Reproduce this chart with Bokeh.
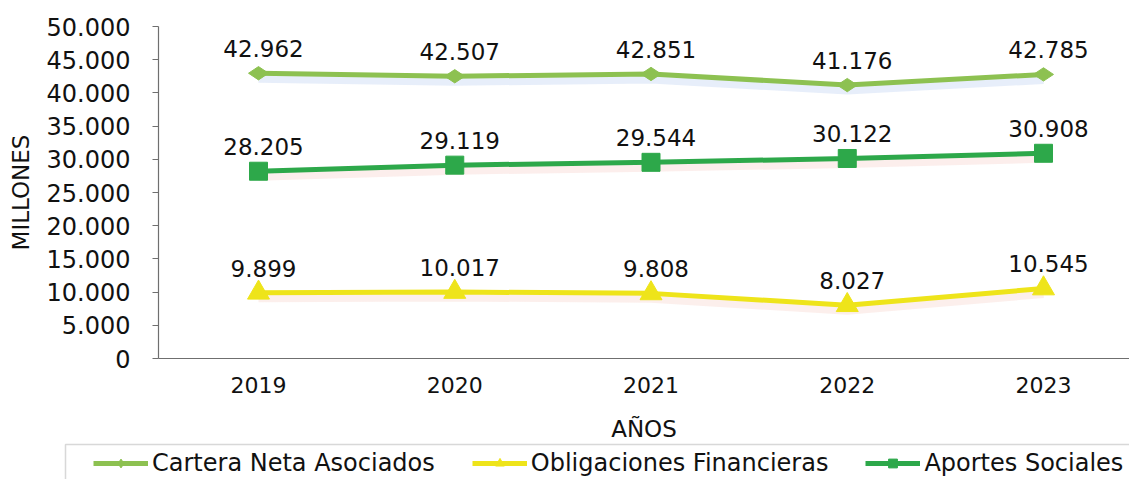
from bokeh.plotting import figure
from bokeh.models import (Range1d, FixedTicker, Legend, LegendItem, ColumnDataSource,
                          LabelSet, BoxAnnotation)
from bokeh.core.properties import value
from bokeh.embed import file_html
from bokeh.resources import INLINE

years = ["2019", "2020", "2021", "2022", "2023"]
cartera = [42962, 42507, 42851, 41176, 42785]
obligaciones = [9899, 10017, 9808, 8027, 10545]
aportes = [28205, 29119, 29544, 30122, 30908]
y_ticks = [0, 5000, 10000, 15000, 20000, 25000, 30000, 35000, 40000, 45000, 50000]
y_tick_labels = ["0", "5.000", "10.000", "15.000", "20.000", "25.000",
                 "30.000", "35.000", "40.000", "45.000", "50.000"]
series_names = ["Cartera Neta Asociados", "Obligaciones Financieras", "Aportes Sociales"]

FONT = "DejaVu Sans"

# layout geometry (pixels)
W, H = 1129, 479
AX_LEFT, AX_TOP, AX_BOTTOM = 158, 26, 358
FIRST_CAT, CAT_STEP = 258, 196.25
Y_MAX = 50000
ypp = Y_MAX / (AX_BOTTOM - AX_TOP)

def fmt(v):
    return f"{v:,}".replace(",", ".")

xs = list(range(len(years)))
x_axis_pos = (AX_LEFT - FIRST_CAT) / CAT_STEP

p = figure(width=W, height=H, output_backend="svg", toolbar_location=None,
           x_range=Range1d(-FIRST_CAT / CAT_STEP, (W - FIRST_CAT) / CAT_STEP),
           y_range=Range1d(-(H - AX_BOTTOM) * ypp, Y_MAX + AX_TOP * ypp),
           min_border=0)
p.outline_line_color = None
p.xgrid.grid_line_color = None
p.ygrid.grid_line_color = None

# axes
p.yaxis.ticker = FixedTicker(ticks=y_ticks)
p.yaxis.major_label_overrides = {t: l for t, l in zip(y_ticks, y_tick_labels)}
p.yaxis.fixed_location = x_axis_pos
p.yaxis.bounds = (0, Y_MAX)
p.xaxis.ticker = FixedTicker(ticks=xs)
p.xaxis.major_label_overrides = {i: y for i, y in zip(xs, years)}
p.xaxis.fixed_location = 0
p.xaxis.bounds = (x_axis_pos, (W - FIRST_CAT) / CAT_STEP)
for ax in (p.xaxis, p.yaxis):
    ax.axis_line_color = "#6f6f6f"
    ax.axis_line_width = 1.2
    ax.major_tick_line_color = "#6f6f6f"
    ax.minor_tick_line_color = None
    ax.major_label_text_font = FONT
    ax.major_label_text_color = "#111111"
    ax.axis_label_text_font = FONT
    ax.axis_label_text_font_style = "normal"
    ax.axis_label_text_color = "#111111"
    ax.axis_label_text_font_size = "23px"
p.yaxis.major_tick_out = 6
p.yaxis.major_tick_in = 0
p.yaxis.major_label_text_font_size = "24px"
p.yaxis.major_label_standoff = 22
p.yaxis.axis_label = "MILLONES"
p.yaxis.axis_label_standoff = 10
p.xaxis.major_tick_out = 0
p.xaxis.major_tick_in = 0
p.xaxis.major_label_text_font_size = "22px"
p.xaxis.major_label_standoff = 18
p.xaxis.axis_label = "AÑOS"
p.xaxis.axis_label_standoff = 20

colors = ["#8dc151", "#eee41a", "#2da84a"]
glows = ["#b9cff0", "#f6d2c8", "#f5cfc8"]
markers = ["diamond", "triangle", "square"]
sizes = [20, 22, 18]
angles = [1.5708, 0, 0]
data = [cartera, obligaciones, aportes]

glow_shift = 5 * ypp
items = []
for name, vals, col, gl, mk, sz, ang in zip(series_names, data, colors, glows, markers, sizes, angles):
    src = ColumnDataSource(dict(x=xs, y=vals, yg=[v - glow_shift for v in vals],
                                lab=[fmt(v) for v in vals]))
    p.line("x", "yg", source=src, line_color=gl, line_width=9, line_alpha=0.35)
    ln = p.line("x", "y", source=src, line_color=col, line_width=5)
    sc = p.scatter("x", "y", source=src, marker=mk, size=sz, angle=ang,
                   fill_color=col, line_color=col)
    p.add_layout(LabelSet(x="x", y="y", text="lab", source=src, x_offset=5, y_offset=16,
                          text_align="center", text_baseline="alphabetic",
                          text_font=value(FONT), text_font_size="23px", text_color="#111111"))
    items.append(LegendItem(label=name, renderers=[ln, sc]))

# legend frame box
box = BoxAnnotation(left=65, right=W + 20, top=444, bottom=H + 20,
                    left_units="canvas", right_units="canvas",
                    top_units="canvas", bottom_units="canvas",
                    fill_color="white", fill_alpha=1.0,
                    line_color="#7f7f7f", line_width=1.5)
p.add_layout(box)

legend = Legend(items=items, orientation="horizontal", location=(87, -4),
                glyph_width=55, glyph_height=22, label_standoff=4, spacing=37,
                padding=6, margin=0, border_line_alpha=0, background_fill_alpha=0,
                label_text_font=FONT, label_text_font_size="24px",
                label_text_color="#111111")
p.add_layout(legend, "center")

open("out.html", "w").write(file_html(p, INLINE))
